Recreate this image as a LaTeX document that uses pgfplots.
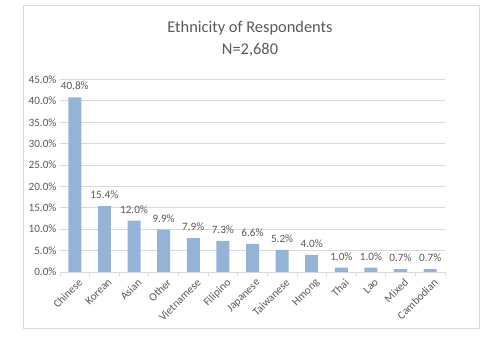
\documentclass[border=0pt]{standalone}
\usepackage{pgfplots}
\pgfplotsset{compat=1.18}
\usepackage{fontspec}
\setmainfont{Carlito}
\definecolor{barblue}{RGB}{149,179,215}
\definecolor{txtgray}{RGB}{89,89,89}
\definecolor{gridgray}{RGB}{217,217,217}
\begin{document}
\begin{tikzpicture}[x=1pt,y=1pt]
\path[use as bounding box] (0,0) rectangle (500,337);
\draw[gridgray, line width=0.8pt] (23,9) rectangle (479,332);
\node[txtgray, font=\fontsize{16.4}{18}\selectfont] at (250,309) {Ethnicity of Respondents};
\node[txtgray, font=\fontsize{16.4}{18}\selectfont] at (250,287) {N=2,680};
\begin{axis}[
  at={(60pt,65pt)}, anchor=south west,
  scale only axis, width=385pt, height=192.5pt,
  xmin=-0.5, xmax=12.5, ymin=0, ymax=45,
  ytick={0,5,...,45},
  yticklabel={\pgfmathprintnumber[fixed,fixed zerofill,precision=1]{\tick}\%},
  /pgf/number format/assume math mode=true,
  xtick={0,...,12},
  xticklabels={Chinese,Korean,Asian,Other,Vietnamese,Filipino,Japanese,Taiwanese,Hmong,Thai,Lao,Mixed,Cambodian},
  x tick label style={rotate=45, anchor=north east, inner sep=1pt, xshift=-1pt, yshift=-5pt},
  minor xtick={-0.5,0.5,...,12.5},
  major tick length=0pt,
  minor tick length=4pt,
  tick align=outside,
  minor tick style={gridgray, line width=0.8pt},
  ymajorgrids, grid style={gridgray, line width=0.8pt},
  axis line style={draw=none},
  axis x line*=bottom, axis y line*=left,
  tick label style={txtgray, font=\fontsize{11.2}{12}\selectfont},
  ytick style={draw=none},
  ybar, bar width=13pt,
  nodes near coords={\pgfmathprintnumber[fixed,fixed zerofill,precision=1]{\pgfplotspointmeta}\%},
  nodes near coords style={txtgray, font=\fontsize{11.2}{12}\selectfont, yshift=4pt},
  clip=false,
]
\draw[gridgray, line width=0.8pt] (axis cs:-0.5,0) -- (axis cs:12.5,0);
\addplot[fill=barblue, draw=none] coordinates {
(0,40.8) (1,15.4) (2,12.0) (3,9.9) (4,7.9) (5,7.3) (6,6.6) (7,5.2) (8,4.0) (9,1.0) (10,1.0) (11,0.7) (12,0.7)
};
\end{axis}
\end{tikzpicture}
\end{document}
